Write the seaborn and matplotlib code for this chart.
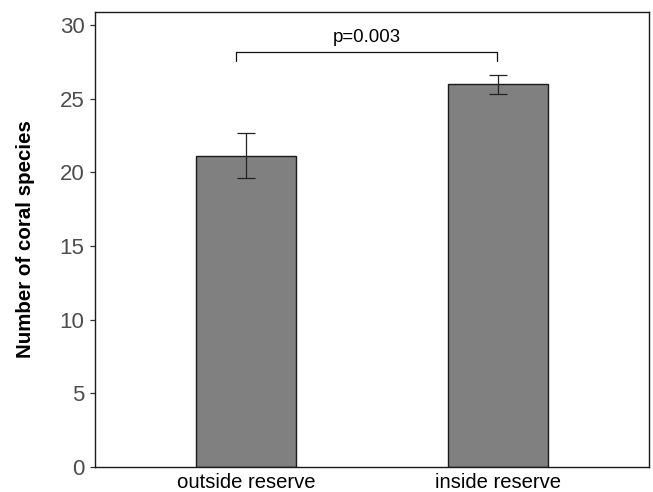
import matplotlib
matplotlib.use("Agg")
import matplotlib.pyplot as plt
import seaborn as sns
import pandas as pd

categories = ["outside reserve", "inside reserve"]
means = [21.13, 25.97]
err_low = [19.6, 25.3]
err_high = [22.64, 26.61]
y_ticks = [0, 5, 10, 15, 20, 25, 30]
p_label = "p=0.003"

sns.set_theme(style="white")
plt.rcParams["font.family"] = ["Liberation Sans", "DejaVu Sans"]

df = pd.DataFrame({"site": categories, "species": means})

fig = plt.figure(figsize=(6.53, 4.92), dpi=100)
ax = fig.add_axes([95 / 653, 1 - 467 / 492, (649 - 95) / 653, (467 - 12) / 492])

sns.barplot(data=df, x="site", y="species", order=categories, color="#808080",
            saturation=1, width=0.4, edgecolor="#1a1a1a", linewidth=1.0,
            errorbar=None, ax=ax)

xs = list(range(len(categories)))
yerr = [[m - lo for m, lo in zip(means, err_low)],
        [hi - m for m, hi in zip(means, err_high)]]
ax.errorbar(xs, means, yerr=yerr, fmt="none", ecolor="#222222",
            elinewidth=0.9, capsize=6.3, capthick=0.9)

# significance bracket
br_y, br_low = 28.19, 27.54
ax.plot([-0.042, -0.042, 0.997, 0.997], [br_low, br_y, br_y, br_low],
        color="#111111", linewidth=0.9)
ax.text(0.478, 28.82, p_label, ha="center", va="baseline", fontsize=13.4,
        color="black")

ax.set_xlim(-0.6, 1.6)
ax.set_ylim(0, 30.88)
ax.set_yticks(y_ticks)
ax.set_yticklabels([str(t) for t in y_ticks])
ax.set_xlabel("")
ax.set_ylabel("Number of coral species", fontsize=14.8, fontweight="bold",
              color="black", labelpad=18)

ax.tick_params(axis="y", labelsize=16, labelcolor="#4D4D4D", length=3.5,
               width=0.9, color="#333333", left=True, pad=4)
ax.tick_params(axis="x", labelsize=14.6, labelcolor="black", length=0, pad=4.5)

for s in ax.spines.values():
    s.set_visible(True)
    s.set_color("#1a1a1a")
    s.set_linewidth(1.0)

fig.savefig("out.png", dpi=100)
